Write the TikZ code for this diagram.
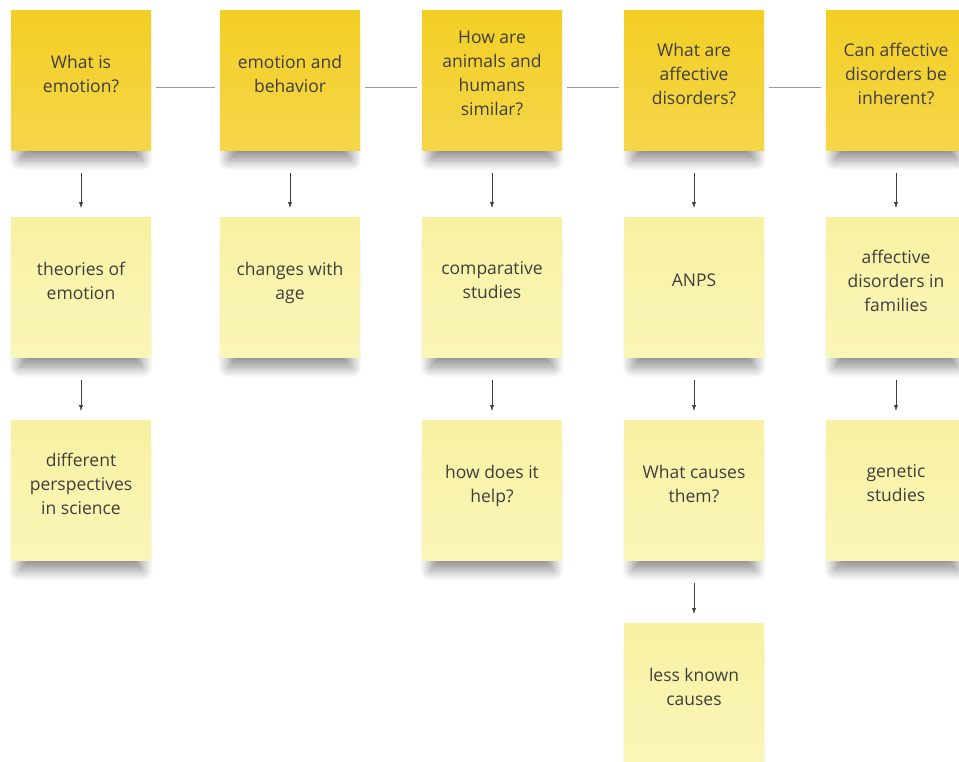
\documentclass[tikz,border=0pt]{standalone}
\usepackage{fontspec}
\setmainfont{Open Sans}
\usepackage{tikz}
\usetikzlibrary{arrows.meta,positioning,shadows.blur}
\definecolor{noteGold}{HTML}{F3CF24}
\definecolor{noteGoldLt}{HTML}{F5D64A}
\definecolor{notePale}{HTML}{F8F1A2}
\definecolor{notePaleLt}{HTML}{FAF6B8}
\definecolor{noteInk}{HTML}{3E3E3E}
\tikzset{
  snote/.style={rectangle,minimum width=140pt,minimum height=140pt,inner sep=0pt,
    outer sep=0pt,align=center,font=\fontsize{17.5pt}{24pt}\selectfont,text=noteInk,
    text depth=13pt,
    blur shadow={shadow xshift=0pt,shadow yshift=-21pt,shadow scale=0.88,
      shadow opacity=45,shadow blur radius=12pt,shadow blur steps=14}},
  squest/.style={snote,top color=noteGold,bottom color=noteGoldLt},
  stopic/.style={snote,top color=notePale,bottom color=notePaleLt},
  slink/.style={draw=gray!80,thin,shorten <=5pt,shorten >=5pt},
  sflow/.style={-{Latex[length=6pt,width=4pt]},thin,draw=noteInk,
    shorten <=23pt,shorten >=9pt},
}

\begin{document}
\begin{tikzpicture}[x=1pt,y=-1pt,node distance=63pt]
\useasboundingbox (0,0) rectangle (959,761);
\clip (0,0) rectangle (959,761);
% questions along the top
\node[squest] (q1) at (81,80) {What is\\emotion?};
\node[squest,right=69pt of q1] (q2) {emotion and\\behavior};
\node[squest,right=62pt of q2] (q3) {How are\\animals and\\humans\\similar?};
\node[squest,right=62pt of q3] (q4) {What are\\affective\\disorders?};
\node[squest,right=62pt of q4] (q5) {Can affective\\disorders be\\inherent?};
% second row
\node[stopic,below=67pt of q1] (t1) {theories of\\emotion};
\node[stopic,below=67pt of q2] (t2) {changes with\\age};
\node[stopic,below=67pt of q3] (t3) {comparative\\studies};
\node[stopic,below=67pt of q4] (t4) {ANPS};
\node[stopic,below=67pt of q5] (t5) {affective\\disorders in\\families};
% third row
\node[stopic,below=of t1] (d1) {different\\perspectives\\in science};
\node[stopic,below=of t3] (d3) {how does it\\help?};
\node[stopic,below=of t4] (d4) {What causes\\them?};
\node[stopic,below=of t5] (d5) {genetic\\studies};
% last one
\node[stopic,below=of d4] (c4) {less known\\causes};
\draw[slink] ([yshift=-7pt]q1.east) -- ([yshift=-7pt]q2.west);
\draw[slink] ([yshift=-7pt]q2.east) -- ([yshift=-7pt]q3.west);
\draw[slink] ([yshift=-7pt]q3.east) -- ([yshift=-7pt]q4.west);
\draw[slink] ([yshift=-7pt]q4.east) -- ([yshift=-7pt]q5.west);
\draw[sflow] (q1) -- (t1);
\draw[sflow] (q2) -- (t2);
\draw[sflow] (q3) -- (t3);
\draw[sflow] (q4) -- (t4);
\draw[sflow] (q5) -- (t5);
\draw[sflow] (t1) -- (d1);
\draw[sflow] (t3) -- (d3);
\draw[sflow] (t4) -- (d4);
\draw[sflow] (t5) -- (d5);
\draw[sflow] (d4) -- (c4);
\end{tikzpicture}
\end{document}
